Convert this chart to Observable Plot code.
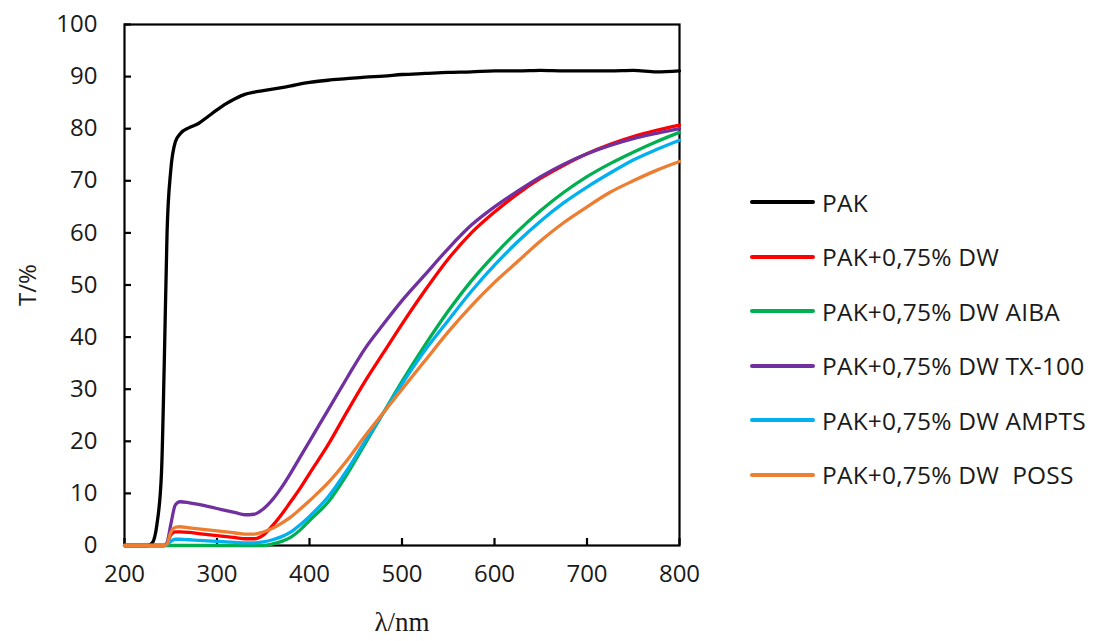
<!DOCTYPE html>
<html>
<head>
<meta charset="utf-8">
<script src="https://cdn.jsdelivr.net/npm/d3@7"></script>
<script src="https://cdn.jsdelivr.net/npm/@observablehq/plot@0.6"></script>
<style>
  html, body { margin: 0; padding: 0; background: #fff; }
  #wrap { position: relative; width: 1101px; height: 641px; overflow: hidden; }
  #legend { position: absolute; left: 750px; top: 184px; font-family: "Open Sans", sans-serif; font-size: 24.5px; color: #1a1a1a; letter-spacing: 0.2px; }
  .row { position: absolute; left: 0; white-space: pre; display: flex; align-items: center; height: 36px; }
  .sw { width: 65px; height: 4px; border-radius: 2px; margin-right: 7px; }
</style>
</head>
<body>
<div id="wrap"></div>
<script>
// Wavelength grid (nm)
const wl = [200,220,225,230,235,240,243,246,250,255,260,270,280,290,300,310,320,330,340,350,360,370,380,390,400,420,440,460,480,500,525,550,575,600,625,650,675,700,725,750,775,800];

// Transmittance (%) per series
const pak   = [0,0,0,0.5,4,14,35,60,72,77.5,79,80.2,81,82.3,83.6,84.8,85.8,86.6,87,87.3,87.6,87.9,88.2,88.6,88.9,89.3,89.6,89.9,90.1,90.4,90.6,90.8,90.9,91.1,91.1,91.2,91.1,91.1,91.1,91.2,90.9,91.1];
const dw    = [0,0,0,0,0,0,0,0.3,2,2.6,2.6,2.5,2.3,2.1,1.9,1.7,1.5,1.3,1.3,2,3.8,6,8.5,11,13.8,19.3,25.5,31.5,37,42.5,49,55,60,64,67.5,70.5,73,75.2,77,78.5,79.7,80.7];
const aiba  = [0,0,0,0,0,0,0,0,0,0,0,0,0,0,0,0,0,0,0,0,0.3,0.8,1.6,3,4.8,8.3,13.5,19.5,25.5,31.5,38.5,45,50.8,55.8,60.3,64.3,67.8,70.8,73.3,75.5,77.5,79.3];
const tx100 = [0,0,0,0,0,0,0,0.5,4,7.8,8.4,8.2,7.9,7.5,7.1,6.7,6.3,5.9,6,7,8.8,11.2,14,17,20,26,32,37.8,42.5,47,52,57,61.5,65,68,70.8,73.2,75.2,76.8,78.1,79.1,80];
const ampts = [0,0,0,0,0,0,0,0.2,0.8,1.2,1.2,1.1,1,0.9,0.8,0.7,0.6,0.5,0.5,0.7,1.1,1.7,2.6,4,5.6,9.3,14.3,20,25.5,31,37.5,43.2,48.8,53.8,58.3,62.3,65.8,68.8,71.5,74,76,77.8];
const poss  = [0,0,0,0,0,0,0,0.3,2.5,3.5,3.6,3.4,3.2,3,2.8,2.6,2.4,2.2,2.2,2.6,3.3,4.3,5.5,7,8.6,12,16.2,21,25.5,30,35.5,41,46,50.5,54.5,58.5,62,65,67.8,70,72,73.7];

const seriesNames = ["PAK", "PAK+0,75% DW", "PAK+0,75% DW AIBA", "PAK+0,75% DW TX-100", "PAK+0,75% DW AMPTS", "PAK+0,75% DW  POSS"];
const seriesColors = ["#000000", "#ff0000", "#00b050", "#7030a0", "#00b0f0", "#ed7d31"];
const seriesValues = [pak, dw, aiba, tx100, ampts, poss];

const xTicks = [200, 300, 400, 500, 600, 700, 800];
const yTicks = [0, 10, 20, 30, 40, 50, 60, 70, 80, 90, 100];
const xDomain = [200, 800];
const yDomain = [0, 100];

const data = seriesNames.flatMap((name, i) => wl.map((w, j) => ({wl: w, T: seriesValues[i][j], series: name})));

const tickFont = "'Open Sans', sans-serif";
const W = 1101, H = 641, ML = 124, MR = 422, MT = 24, MB = 96;
const tickLenPx = 7;
// convert the tick length from pixels into each scale's units
const tickLenY = tickLenPx * (yDomain[1] - yDomain[0]) / (H - MT - MB);
const tickLenX = tickLenPx * (xDomain[1] - xDomain[0]) / (W - ML - MR);

const chart = Plot.plot({
  width: W,
  height: H,
  marginLeft: ML,
  marginRight: MR,
  marginTop: MT,
  marginBottom: MB,
  style: {background: "#fff", color: "#1a1a1a", overflow: "visible"},
  x: {domain: xDomain, label: null},
  y: {domain: yDomain, label: null},
  color: {domain: seriesNames, range: seriesColors},
  marks: [
    Plot.frame({stroke: "#000", strokeWidth: 2.2}),
    // inward ticks along the bottom and left edges of the frame
    Plot.ruleX(xTicks, {x: d => d, y1: () => yDomain[0], y2: () => yDomain[0] + tickLenY, stroke: "#000", strokeWidth: 2.2}),
    Plot.ruleY(yTicks, {y: d => d, x1: () => xDomain[0], x2: () => xDomain[0] + tickLenX, stroke: "#000", strokeWidth: 2.2}),
    Plot.line(data, {x: "wl", y: "T", z: "series", stroke: "series", strokeWidth: 3.3, curve: "monotone-x"}),
    // tick labels
    Plot.axisX({ticks: xTicks, tickSize: 0, tickPadding: 19, label: null, fontSize: 24, fontFamily: tickFont}),
    Plot.axisY({ticks: yTicks, tickSize: 0, tickPadding: 27, label: null, fontSize: 24, fontFamily: tickFont}),
    // axis titles
    Plot.axisX({ticks: [], tickSize: 0, label: "λ/nm", labelAnchor: "center", labelArrow: "none", labelOffset: 85, fontSize: 27, fontFamily: "'Liberation Serif', serif"}),
    Plot.axisY({ticks: [], tickSize: 0, label: "T/%", labelAnchor: "center", labelArrow: "none", labelOffset: 106, fontSize: 24, fontFamily: tickFont})
  ]
});

const wrap = document.getElementById("wrap");
wrap.appendChild(chart);

// legend
const legend = document.createElement("div");
legend.id = "legend";
const rowTops = [0, 54.5, 109, 163.5, 218, 272.5];
seriesNames.forEach((name, i) => {
  const row = document.createElement("div");
  row.className = "row";
  row.style.top = rowTops[i] + "px";
  const sw = document.createElement("div");
  sw.className = "sw";
  sw.style.background = seriesColors[i];
  const t = document.createElement("span");
  t.textContent = name;
  row.appendChild(sw);
  row.appendChild(t);
  legend.appendChild(row);
});
wrap.appendChild(legend);
</script>
</body>
</html>
